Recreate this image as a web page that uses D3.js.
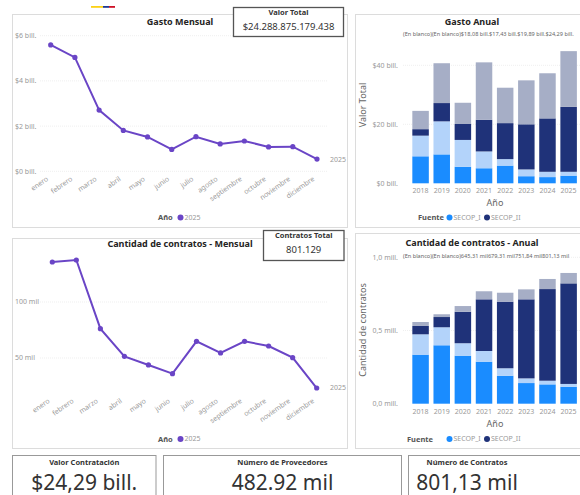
<!DOCTYPE html>
<html>
<head>
<meta charset="utf-8">
<script src="https://cdn.jsdelivr.net/npm/d3@7"></script>
<style>
    html, body { margin: 0; padding: 0; background: #fff; }
    svg { display: block; font-family: "Noto Sans", "Open Sans", sans-serif; }
    .tick-label { fill: #999; font-size: 7px; }
    .title { fill: #252423; font-size: 9px; font-weight: bold; }
</style>
</head>
<body>
<div id="chart"></div>
<script>
// ── Data ──
const months = ['enero', 'febrero', 'marzo', 'abril', 'mayo', 'junio', 'julio',
    'agosto', 'septiembre', 'octubre', 'noviembre', 'diciembre'];
const gastoMensual = [5.59, 5.04, 2.71, 1.81, 1.52, 0.97, 1.53, 1.21, 1.34, 1.08, 1.09, 0.54]; // bill.
const contratosMensual = [135.7, 137.5, 76.2, 51.5, 43.8, 36.0, 64.9, 54.5, 64.9, 60.7, 50.3, 23.2]; // mil

const years = ['2018', '2019', '2020', '2021', '2022', '2023', '2024', '2025'];
const stackKeys = ['secop1', 'secop1b', 'secop2', 'blanco'];
const gastoSecop1 = [9.15, 9.8, 5.6, 5.1, 6.0, 2.4, 2.1, 2.6];
const gastoSecop1b = [7.0, 11.2, 9.1, 5.7, 2.2, 2.3, 1.8, 1.3];
const gastoSecop2 = [2.2, 6.2, 5.4, 10.7, 12.2, 15.3, 18.1, 22.0];
const gastoBlanco = [6.2, 13.5, 7.2, 19.5, 12.0, 14.9, 15.3, 18.9];
const contSecop1 = [0.335, 0.399, 0.328, 0.287, 0.191, 0.141, 0.132, 0.116]; // mill.
const contSecop1b = [0.139, 0.123, 0.085, 0.073, 0.051, 0.032, 0.025, 0.019];
const contSecop2 = [0.057, 0.070, 0.215, 0.353, 0.455, 0.540, 0.626, 0.687];
const contBlanco = [0.027, 0.019, 0.039, 0.055, 0.061, 0.068, 0.069, 0.071];

const gastoTopLabels = ['(En blanco)', '(En blanco)', '$18,08 bill.', '$17,43 bill.', '$19,89 bill.', '$24,29 bill.'];
const contTopLabels = ['(En blanco)', '(En blanco)', '645,31 mil', '679,31 mil', '751,84 mil', '801,13 mil'];
const gastoTicks = [0, 20, 40];
const contTicks = [0, 0.5, 1];
const gastoMensualTicks = [0, 2, 4, 6];
const contMensualTicks = [50, 100];
const legendSeries = ['SECOP_I', 'SECOP_II'];

const COLORS = {
    secop1: '#1a8cff',
    secop1b: '#b3d3fa',
    secop2: '#1f3279',
    blanco: '#a6aec6',
    line: '#6a45c6',
};

const width = 580, height = 495;
const svg = d3.select('#chart').append('svg')
    .attr('width', width)
    .attr('height', height);

// Flag stripe
const flag = [['#fcd116', 12], ['#1f3a93', 6], ['#ce1126', 6]];
let fx = 91;
flag.forEach(([c, w]) => {
    svg.append('rect').attr('x', fx).attr('y', 6).attr('width', w).attr('height', 1.8).attr('fill', c);
    fx += w;
});

// Panels
function panel(x, y, w, h) {
    svg.append('rect')
        .attr('x', x).attr('y', y).attr('width', w).attr('height', h)
        .attr('fill', '#fff').attr('stroke', '#dcdcdc').attr('stroke-width', 1);
}
panel(12.5, 14.5, 335, 213);
panel(355.5, 14.5, 240, 213);
panel(12.5, 238.5, 335, 210);
panel(355.5, 233.5, 240, 215);

function card(x, y, w, h, stroke, sw) {
    svg.append('rect')
        .attr('x', x).attr('y', y).attr('width', w).attr('height', h)
        .attr('fill', '#fff').attr('stroke', stroke).attr('stroke-width', sw);
}

// ── Line chart ──
function lineChart(opt) {
    const g = svg.append('g');
    const x = d3.scalePoint().domain(months).range(opt.xRange);
    const y = d3.scaleLinear().domain(opt.yDomain).range(opt.yRange);

    // Gridlines
    g.selectAll('.grid').data(opt.ticks).join('line')
        .attr('x1', 40).attr('x2', 328)
        .attr('y1', d => y(d)).attr('y2', d => y(d))
        .attr('stroke', '#efefef').attr('stroke-dasharray', '1,1');

    g.selectAll('.ytick').data(opt.ticks).join('text')
        .attr('class', 'tick-label')
        .attr('x', 15).attr('y', d => y(d))
        .attr('dy', '0.35em')
        .text(opt.format);

    g.selectAll('.xtick').data(months).join('text')
        .attr('class', 'tick-label')
        .attr('text-anchor', 'end')
        .attr('transform', d => `translate(${x(d) - 2},${opt.xLabelY}) rotate(-35)`)
        .text(d => d);

    const pts = months.map((m, i) => [x(m), y(opt.values[i])]);
    g.append('path')
        .attr('d', d3.line()(pts))
        .attr('fill', 'none')
        .attr('stroke', COLORS.line)
        .attr('stroke-width', 2);
    g.selectAll('.pt').data(pts).join('circle')
        .attr('cx', d => d[0]).attr('cy', d => d[1]).attr('r', 2.6)
        .attr('fill', COLORS.line);

    const last = pts[pts.length - 1];
    g.append('text').attr('class', 'tick-label')
        .attr('x', 330).attr('y', last[1]).attr('dy', '0.35em')
        .text('2025');

    g.append('text').attr('class', 'title')
        .attr('x', 180).attr('y', opt.titleY).attr('text-anchor', 'middle')
        .text(opt.title);

    // Legend
    g.append('text').attr('x', 158).attr('y', opt.legendY).attr('dy', '0.35em')
        .attr('font-size', 7.5).attr('font-weight', 'bold').attr('fill', '#555')
        .text('Año');
    g.append('circle').attr('cx', 180.5).attr('cy', opt.legendY).attr('r', 3).attr('fill', COLORS.line);
    g.append('text').attr('class', 'tick-label').attr('x', 184.5).attr('y', opt.legendY).attr('dy', '0.35em')
        .attr('font-size', 7.5).text('2025');
}

lineChart({
    title: 'Gasto Mensual',
    titleY: 25,
    values: gastoMensual,
    xRange: [50.7, 317],
    yDomain: [0, 6],
    yRange: [171.3, 35.7],
    ticks: gastoMensualTicks,
    format: d => `$${d} bill.`,
    xLabelY: 180,
    legendY: 217.5,
});

lineChart({
    title: 'Cantidad de contratos - Mensual',
    titleY: 247,
    values: contratosMensual,
    xRange: [52.3, 316.7],
    yDomain: [20, 140],
    yRange: [391.6, 257.2],
    ticks: contMensualTicks,
    format: d => `${d} mil`,
    xLabelY: 402,
    legendY: 439,
});

// ── Stacked bar chart ──
function barChart(opt) {
    const g = svg.append('g');
    const x = d3.scaleBand().domain(years).range([410, 579.2]).paddingInner(0.22).paddingOuter(0.11);
    const y = d3.scaleLinear().domain(opt.yDomain).range(opt.yRange);

    const rows = years.map((yr, i) => {
        const r = { year: yr };
        stackKeys.forEach(k => { r[k] = opt.series[k][i]; });
        return r;
    });
    const stacked = d3.stack().keys(stackKeys)(rows);

    g.selectAll('.grid').data(opt.ticks.slice(1)).join('line')
        .attr('x1', 403).attr('x2', 590)
        .attr('y1', d => y(d)).attr('y2', d => y(d))
        .attr('stroke', '#efefef').attr('stroke-dasharray', '1,1');

    g.selectAll('.layer').data(stacked).join('g')
        .attr('fill', d => COLORS[d.key])
        .selectAll('rect').data(d => d).join('rect')
        .attr('x', d => x(d.data.year))
        .attr('width', x.bandwidth())
        .attr('y', d => y(d[1]))
        .attr('height', d => y(d[0]) - y(d[1]));

    g.selectAll('.ytick').data(opt.ticks).join('text')
        .attr('class', 'tick-label')
        .attr('x', 398).attr('y', d => y(d)).attr('dy', '0.35em')
        .attr('text-anchor', 'end')
        .text(opt.format);

    g.selectAll('.xtick').data(years).join('text')
        .attr('class', 'tick-label')
        .attr('x', d => x(d) + x.bandwidth() / 2)
        .attr('y', opt.xLabelY).attr('dy', '0.35em')
        .attr('text-anchor', 'middle')
        .attr('font-size', 7.5)
        .text(d => d);

    // Total labels (overlapping, as in the original)
    g.append('text')
        .attr('x', 403).attr('y', opt.labelY).attr('dy', '0.35em')
        .attr('font-size', 5.6).attr('fill', '#666')
        .text(opt.topLabels.join(''));

    g.append('text').attr('class', 'title')
        .attr('x', 472).attr('y', opt.titleY).attr('text-anchor', 'middle')
        .text(opt.title);

    g.append('text')
        .attr('transform', `translate(366,${opt.yTitleY}) rotate(-90)`)
        .attr('text-anchor', 'middle')
        .attr('font-size', 9).attr('fill', '#666')
        .text(opt.yTitle);

    g.append('text')
        .attr('x', 495).attr('y', opt.axisTitleY).attr('dy', '0.35em')
        .attr('text-anchor', 'middle')
        .attr('font-size', 9).attr('fill', '#666')
        .text('Año');

    // Legend
    g.append('text').attr('x', opt.legendX).attr('y', opt.legendY).attr('dy', '0.35em')
        .attr('font-size', 7.5).attr('font-weight', 'bold').attr('fill', '#555')
        .text('Fuente');
    const items = [[449.5, COLORS.secop1], [487, COLORS.secop2]];
    items.forEach(([cx, c], i) => {
        g.append('circle').attr('cx', cx).attr('cy', opt.legendY).attr('r', 3).attr('fill', c);
        g.append('text').attr('class', 'tick-label')
            .attr('x', cx + 4).attr('y', opt.legendY).attr('dy', '0.35em')
            .attr('font-size', 7.5).text(legendSeries[i]);
    });
}

barChart({
    title: 'Gasto Anual',
    titleY: 25,
    labelY: 34.5,
    series: { secop1: gastoSecop1, secop1b: gastoSecop1b, secop2: gastoSecop2, blanco: gastoBlanco },
    yDomain: [0, 40],
    yRange: [183.3, 65.3],
    ticks: gastoTicks,
    format: d => `$${d} bill.`,
    topLabels: gastoTopLabels,
    yTitle: 'Valor Total',
    yTitleY: 105,
    xLabelY: 190.7,
    axisTitleY: 203,
    legendX: 418,
    legendY: 217.5,
});

barChart({
    title: 'Cantidad de contratos - Anual',
    titleY: 246,
    labelY: 256.5,
    series: { secop1: contSecop1, secop1b: contSecop1b, secop2: contSecop2, blanco: contBlanco },
    yDomain: [0, 1],
    yRange: [403.7, 257.3],
    ticks: contTicks,
    format: d => `${d3.format('.1f')(d).replace('.', ',')} mill.`,
    topLabels: contTopLabels,
    yTitle: 'Cantidad de contratos',
    yTitleY: 330,
    xLabelY: 411.3,
    axisTitleY: 424,
    legendX: 407,
    legendY: 439,
});

// ── KPI cards ──
card(233.5, 7.5, 110, 29, '#555', 1.3);
svg.append('text').attr('x', 288.5).attr('y', 15).attr('text-anchor', 'middle')
    .attr('font-size', 7.5).attr('font-weight', 'bold').attr('fill', '#333').text('Valor Total');
svg.append('text').attr('x', 288.5).attr('y', 29.5).attr('text-anchor', 'middle')
    .attr('font-size', 9.5).attr('fill', '#333').text('$24.288.875.179.438');

card(263.5, 230.5, 80.5, 30, '#555', 1.3);
svg.append('text').attr('x', 303.7).attr('y', 238).attr('text-anchor', 'middle')
    .attr('font-size', 7.5).attr('font-weight', 'bold').attr('fill', '#333').text('Contratos Total');
svg.append('text').attr('x', 303.7).attr('y', 253).attr('text-anchor', 'middle')
    .attr('font-size', 9.5).attr('fill', '#333').text('801.129');

const bottomCards = [
    { x: 12.5, w: 143.5, label: 'Valor Contratación', value: '$24,29 bill.' },
    { x: 163.5, w: 238, label: 'Número de Proveedores', value: '482.92 mil' },
    { x: 408.5, w: 190, label: 'Número de Contratos', value: '801,13 mil', cx: 467 },
];
bottomCards.forEach(c => {
    card(c.x, 455.5, c.w, 50, '#999', 1);
    const cx = c.cx || c.x + c.w / 2;
    svg.append('text').attr('x', cx).attr('y', 465).attr('text-anchor', 'middle')
        .attr('font-size', 7.5).attr('font-weight', 'bold').attr('fill', '#333').text(c.label);
    svg.append('text').attr('x', cx).attr('y', 490).attr('text-anchor', 'middle')
        .attr('font-size', 21).attr('fill', '#333').text(c.value);
});
</script>
</body>
</html>
